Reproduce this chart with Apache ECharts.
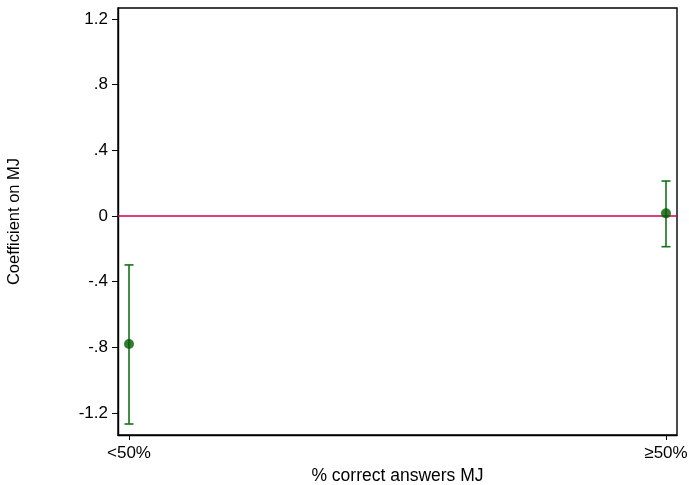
<!DOCTYPE html>
<html><head><meta charset="utf-8">
<script src="https://cdn.jsdelivr.net/npm/echarts@6/dist/echarts.min.js"></script>
<style>html,body{margin:0;padding:0;background:#fff}#c{width:689px;height:485px}</style>
</head><body><div id="c"></div>
<script>
var categories = ['<50%', '\u226550%'];
var xPositions = [0, 1];
var coef = [-0.78, 0.016];
var ciLow = [-1.267, -0.187];
var ciHigh = [-0.298, 0.213];
var yTicks = [-1.2, -0.8, -0.4, 0, 0.4, 0.8, 1.2];
var yTickLabels = ['-1.2', '-.8', '-.4', '0', '.4', '.8', '1.2'];

var green = '#16701a';
var font = 'Liberation Sans, Arial, sans-serif';
var chart = echarts.init(document.getElementById('c'));
var ciData = xPositions.map(function (x, i) { return [x, ciLow[i], ciHigh[i]]; });
var ptData = xPositions.map(function (x, i) { return [x, coef[i]]; });
var xMin = -0.0205, xMax = 1.0205;
chart.setOption({
  animation: false,
  grid: { left: 118, right: 12, top: 8, bottom: 50, show: true, borderColor: '#000', borderWidth: 1.4,
    containLabel: false, outerBoundsMode: 'none' },
  xAxis: {
    type: 'value', min: xMin, max: xMax,
    name: '% correct answers MJ', nameLocation: 'middle', nameGap: 28,
    nameTextStyle: { color: '#000', fontSize: 17.5, fontFamily: font },
    axisLine: { show: true, onZero: false, lineStyle: { color: '#000', width: 1.4 } },
    axisTick: { show: true, length: 5, lineStyle: { color: '#000' }, customValues: xPositions },
    axisLabel: { color: '#000', fontSize: 17, fontFamily: font, margin: 10, customValues: xPositions,
      formatter: function (v) { var i = xPositions.indexOf(v); return i >= 0 ? categories[i] : ''; } },
    splitLine: { show: false }
  },
  yAxis: {
    type: 'value', min: -1.334, max: 1.267,
    name: 'Coefficient on MJ', nameLocation: 'middle', nameGap: 95,
    nameTextStyle: { color: '#000', fontSize: 16.5, fontFamily: font },
    axisLine: { show: true, onZero: false, lineStyle: { color: '#000', width: 1.4 } },
    axisTick: { show: true, length: 6, lineStyle: { color: '#000' }, customValues: yTicks },
    axisLabel: { color: '#000', fontSize: 17, fontFamily: font, margin: 10, customValues: yTicks,
      formatter: function (v) { var i = yTicks.findIndex(function (t) { return Math.abs(t - v) < 1e-9; }); return i >= 0 ? yTickLabels[i] : ''; } },
    splitLine: { show: false }
  },
  series: [
    {
      type: 'line', data: [[xMin, 0], [xMax, 0]], symbol: 'none',
      lineStyle: { color: '#d1004a', width: 1.6 }, z: 1, silent: true
    },
    {
      type: 'custom', data: ciData, z: 2,
      renderItem: function (params, api) {
        var x = api.value(0);
        var lo = api.coord([x, api.value(1)]);
        var hi = api.coord([x, api.value(2)]);
        var w = 4.5;
        var st = { stroke: green, lineWidth: 1.6 };
        return { type: 'group', children: [
          { type: 'line', shape: { x1: lo[0], y1: lo[1], x2: hi[0], y2: hi[1] }, style: st },
          { type: 'line', shape: { x1: lo[0] - w, y1: lo[1], x2: lo[0] + w, y2: lo[1] }, style: st },
          { type: 'line', shape: { x1: hi[0] - w, y1: hi[1], x2: hi[0] + w, y2: hi[1] }, style: st }
        ] };
      }
    },
    {
      type: 'scatter', data: ptData, symbol: 'circle', symbolSize: 10, z: 3,
      itemStyle: { color: '#005c00' }
    }
  ]
});
</script></body></html>
